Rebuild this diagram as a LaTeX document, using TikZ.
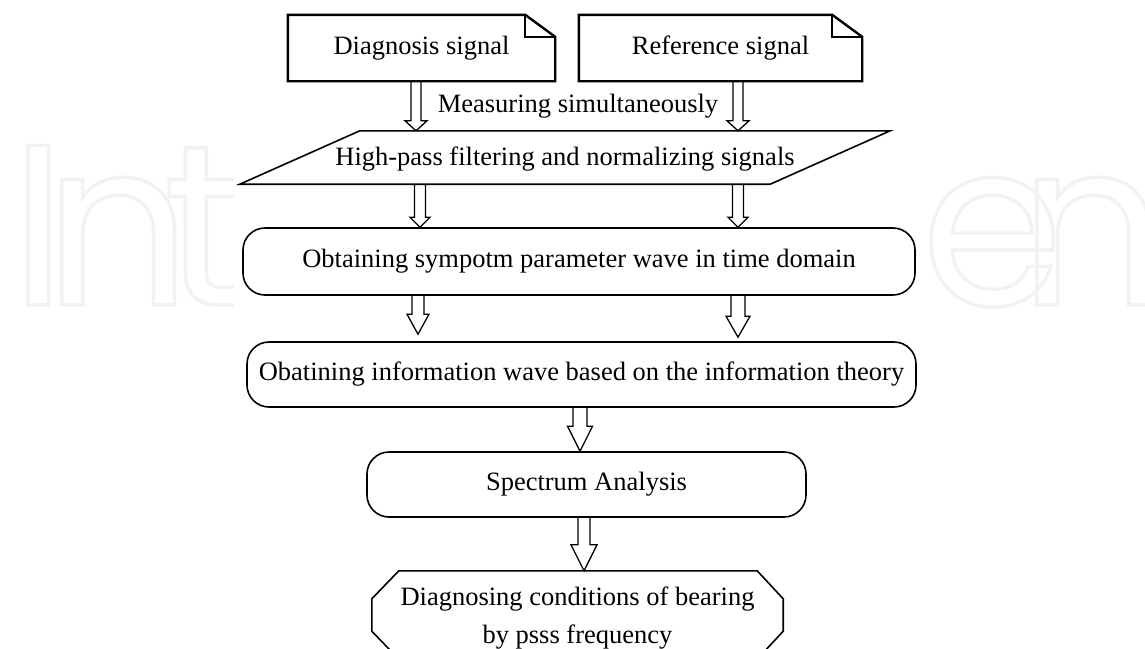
\documentclass[tikz,border=0pt]{standalone}
\usepackage{fontspec}
\setmainfont{Liberation Serif}
\newfontfamily\wmfont{Poppins}
\usetikzlibrary{calc}
\tikzset{
  txt/.style={font=\fontsize{26.5}{38}\selectfont, inner sep=0pt, align=center},
  rbox/.style={txt, draw, line width=1.6pt, rounded corners=22pt},
  shapeline/.style={line width=1.6pt, line join=miter},
  docline/.style={line width=2.4pt, line join=miter},
  harrowline/.style={line width=1.3pt, line join=miter},
  wm/.style={anchor=base west, inner sep=0pt, font=\wmfont\fontsize{229}{229}\selectfont, text=black!5}
}
\newcommand\wmletter[1]{\special{pdf:literal direct 1 Tr 3.5 w 0.95 G}#1\special{pdf:literal direct 0 Tr 0 G}}
% hollow block arrow: #1 start, #2 tip, #3 half shaft, #4 half head, #5 head length
\newcommand\hollowarrow[5]{%
  \draw[harrowline] let \p1=(#1), \p2=(#2) in
    (\x1-#3pt,\y1) -- (\x1-#3pt,\y2+#5pt) -- (\x1-#4pt,\y2+#5pt) -- (\x1,\y2)
    -- (\x1+#4pt,\y2+#5pt) -- (\x1+#3pt,\y2+#5pt) -- (\x1+#3pt,\y1);}
\begin{document}
\begin{tikzpicture}[x=1pt,y=-1pt]
\useasboundingbox (0,0) rectangle (1145,648);
\clip (0,0) rectangle (1145,648);
% watermark
\node[wm] (wmI) at (10,305) {\wmletter{I}};
\node[wm] (wmN) at (44,305) {\wmletter{n}};
\node[wm] (wmT) at (163,305) {\wmletter{t}};
\fill[white] (234,0) rectangle (925,648);
\node[wm] (wmE) at (921,305) {\wmletter{e}};
\node[wm] (wmM) at (1019,305) {\wmletter{n}};

% documents
\node[txt, minimum width=267, minimum height=66] (doc1) at (421.5,48) {Diagnosis signal};
\node[txt, minimum width=283, minimum height=66] (doc2) at (720.5,48) {Reference signal};
\foreach \d in {doc1,doc2}{
  \draw[docline] (\d.south west) -- (\d.north west) -- ($(\d.north east)+(-30,0)$)
     -- ($(\d.north east)+(0,22)$) -- (\d.south east) -- cycle;
  \draw[docline] ($(\d.north east)+(-30,0)$) |- ($(\d.north east)+(0,22)$);
}
\node[txt] (meas) at (578,106) {Measuring simultaneously};

% parallelogram
\node[txt, minimum width=650, minimum height=53] (para) at (565,157.5) {};
\draw[shapeline] (para.south west) -- ($(para.north west)+(120,0)$) -- (para.north east)
   -- ($(para.south east)+(-120,0)$) -- cycle;
\node[txt] (paratext) at ($(para.center)+(0,2)$) {High-pass filtering and normalizing signals};

% rounded boxes
\node[rbox, minimum width=672, minimum height=67] (box1) at (579,261.5) {Obtaining sympotm parameter wave in time domain};
\node[rbox, minimum width=669, minimum height=65] (box2) at (581.5,374.5) {Obatining information wave based on the information theory};
\node[rbox, minimum width=439, minimum height=65] (spec) at (586.5,484.5) {Spectrum Analysis};

% hexagon
\node[txt, minimum width=411, minimum height=88] (hex) at (577.5,615) {};
\draw[shapeline] ($(hex.north west)+(27,0)$) -- ($(hex.north east)+(-26,0)$) -- ($(hex.north east)+(0,28)$)
   -- ($(hex.south east)+(0,-28)$) -- ($(hex.south east)+(-26,0)$) -- ($(hex.south west)+(27,0)$)
   -- ($(hex.south west)+(0,-28)$) -- ($(hex.north west)+(0,28)$) -- cycle;
\node[txt] (hextext) at ($(hex.center)+(0,3)$) {Diagnosing conditions of bearing\\by psss frequency};

% arrow columns
\coordinate (cA) at (416,0);
\coordinate (cB) at (738,0);
\coordinate (cC) at (420,0);
\coordinate (cD) at (738,0);
\coordinate (cE) at (418,0);
\coordinate (cF) at (738,0);
\coordinate (cG) at (580,0);
\coordinate (cH) at (584,0);
\coordinate (tE) at ($(box2.north -| cE)+(0,-7)$);
\coordinate (tF) at ($(box2.north -| cF)+(0,-4)$);

\hollowarrow{doc1.south -| cA}{para.north -| cA}{5}{11}{10}
\hollowarrow{doc2.south -| cB}{para.north -| cB}{5}{11}{10}
\hollowarrow{para.south -| cC}{box1.north -| cC}{5.5}{10}{10}
\hollowarrow{para.south -| cD}{box1.north -| cD}{5.5}{10}{10}
\hollowarrow{box1.south -| cE}{tE}{6}{11}{20}
\hollowarrow{box1.south -| cF}{tF}{7}{12}{21}
\hollowarrow{box2.south -| cG}{spec.north -| cG}{7}{12.5}{25}
\hollowarrow{spec.south -| cH}{hex.north -| cH}{6}{13}{26}
\end{tikzpicture}
\end{document}
